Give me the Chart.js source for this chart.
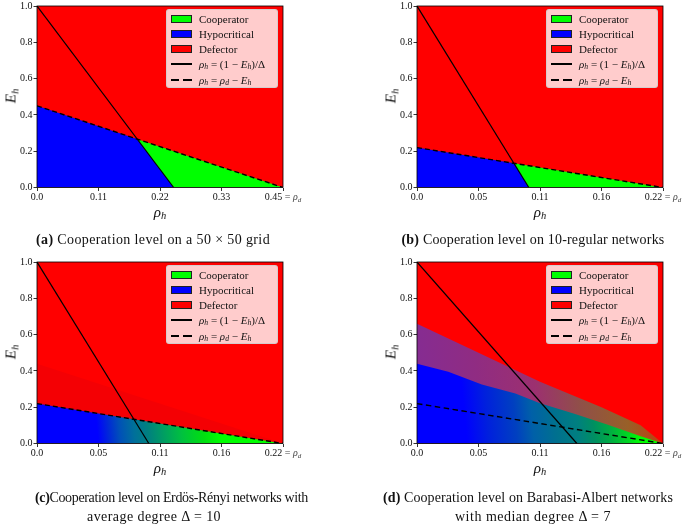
<!DOCTYPE html>
<html>
<head>
<meta charset="utf-8">
<script src="https://cdn.jsdelivr.net/npm/chart.js@4.4.1/dist/chart.umd.min.js"></script>
<style>
  body { margin: 0; width: 685px; height: 526px; position: relative; background: #fff; overflow: hidden;
         font-family: 'Liberation Serif', serif; color: #111; }
  canvas { position: absolute; }
  .t { position: absolute; white-space: nowrap; line-height: 1; transform: translate(-50%, -50%); }
  .cap { font-size: 14px; }
  .xt { font-size: 15px; }
  .yt { font-size: 15px; transform: translate(-50%, -50%) rotate(-90deg); }
  .tk { font-size: 10px; }
  .tk span { color: #444; }
  sub { font-size: 70%; vertical-align: -0.25em; line-height: 0; }
  .leg { position: absolute; width: 112px; height: 79px; box-sizing: border-box; background: rgba(255,255,255,0.8);
         border: 1px solid rgba(204,204,204,0.8); border-radius: 3px; font-size: 11px; }
  .leg .sw { position: absolute; left: 4px; width: 21px; height: 8px; border: 1px solid #222; box-sizing: border-box; }
  .leg .ln { position: absolute; left: 4px; width: 21px; height: 1.6px; background: #000; }
  .leg .ln.d { background: repeating-linear-gradient(90deg, #000 0 8px, transparent 8px 12.5px); height: 2px; }
  .leg .lb { position: absolute; left: 32px; line-height: 1; transform: translateY(-50%); white-space: nowrap; }
</style>
</head>
<body>
<script>
// x = rho_h, y = E_h
const rhoD = [0.45, 0.22, 0.22, 0.22];
const xTickValues = [
  [0, 0.1125, 0.225, 0.3375, 0.45],
  [0, 0.055, 0.11, 0.165, 0.22],
  [0, 0.055, 0.11, 0.165, 0.22],
  [0, 0.055, 0.11, 0.165, 0.22]
];
const xTickLabels = [
  ['0.0', '0.11', '0.22', '0.33', '0.45'],
  ['0.0', '0.05', '0.11', '0.16', '0.22'],
  ['0.0', '0.05', '0.11', '0.16', '0.22'],
  ['0.0', '0.05', '0.11', '0.16', '0.22']
];
const yTickValues = [0, 0.2, 0.4, 0.6, 0.8, 1.0];
const yTickLabels = ['0.0', '0.2', '0.4', '0.6', '0.8', '1.0'];

// (a) 50x50 grid
const gridCoop = [[0.25, 0], [0.183, 0.267], [0.45, 0]];
const gridHypo = [[0, 0], [0, 0.45], [0.183, 0.267], [0.25, 0]];
const gridSolid = [[0, 1], [0.25, 0]];
const gridDashed = [[0, 0.45], [0.45, 0]];

// (b) 10-regular
const regCoop = [[0.1, 0], [0.087, 0.133], [0.22, 0]];
const regHypo = [[0, 0], [0, 0.22], [0.087, 0.133], [0.1, 0]];
const regSolid = [[0, 1], [0.1, 0]];
const regDashed = [[0, 0.22], [0.22, 0]];

// (c) Erdos-Renyi
const erMixed = [[0, 0], [0, 0.22], [0.22, 0]];
const erShade = [[0, 0], [0, 0.44], [0.22, 0]];
const erSolid = [[0, 1], [0.1, 0]];
const erDashed = [[0, 0.22], [0.22, 0]];

// (d) Barabasi-Albert
const baMixed = [[0, 0], [0, 0.44], [0.028, 0.395], [0.058, 0.325], [0.088, 0.275], [0.11, 0.222],
                 [0.14, 0.165], [0.17, 0.104], [0.2, 0.04], [0.22, 0]];
const baShade = [[0, 0], [0, 0.66], [0.055, 0.5], [0.11, 0.34], [0.165, 0.2], [0.2, 0.1], [0.22, 0]];
const baSolid = [[0, 1], [0.143, 0]];
const baDashed = [[0, 0.22], [0.22, 0]];

const colCoop = '#00ff00', colHypo = '#0000ff', colDef = '#ff0000';

// colour ramps (blue -> green) along rho_h
const erStops = [[0, '#0000ff'], [0.055, '#0000ff'], [0.065, '#0028d8'], [0.075, '#0050b8'], [0.088, '#00709a'],
  [0.1, '#008080'], [0.115, '#00a060'], [0.13, '#00c040'], [0.15, '#00e010'], [0.165, '#00ff00'], [0.22, '#00ff00']];
const baStops = [[0, '#0000ff'], [0.045, '#0000ff'], [0.065, '#0020dd'], [0.09, '#0040c0'], [0.105, '#0060a8'],
  [0.125, '#00708f'], [0.145, '#007f80'], [0.16, '#009060'], [0.175, '#00b040'], [0.19, '#00d820'], [0.2, '#00ff00'], [0.22, '#00ff00']];
const baShadeStops = [[0, '#842c94'], [0.06, '#902c82'], [0.11, '#9c3070'], [0.15, '#905048'], [0.19, '#986028'], [0.22, '#c04010']];

const W = 300, H = 230, PL = 37, PW = 246, PT = 5, PB = 187.5;
const panelPos = [[0, 0], [380, 0], [0, 256], [380, 256]];

function pts(a) { return a.map(([x, y]) => ({x, y})); }

function region(data, color, order) {
  return { data: pts(data), fill: 'shape', backgroundColor: color, borderColor: 'rgba(0,0,0,0)',
           borderWidth: 0, pointRadius: 0, order };
}
function edge(data, dash) {
  return { data: pts(data), fill: false, borderColor: '#000', borderWidth: dash.length ? 1.4 : 1.2,
           borderDash: dash, pointRadius: 0, order: 0 };
}
function sweep(stops, tilt) {
  return (c) => {
    const chart = c.chart, a = chart.chartArea, xs = chart.scales.x;
    if (!a || !xs) return stops[0][1];
    const w = a.right - a.left, k = 1 + tilt * tilt;
    const g = chart.ctx.createLinearGradient(a.left, a.bottom, a.right, a.bottom - w * tilt);
    for (const [v, col] of stops) g.addColorStop(Math.min(1, v / xs.max / k), col);
    return g;
  };
}

const frame = {
  id: 'frame',
  afterDatasetsDraw(chart) {
    const {ctx, chartArea: a} = chart;
    ctx.save();
    ctx.strokeStyle = '#000';
    ctx.lineWidth = 0.8;
    ctx.strokeRect(a.left, a.top, a.right - a.left, a.bottom - a.top);
    ctx.restore();
  }
};

const panelSets = [
  [edge(gridSolid, []), edge(gridDashed, [5, 3]), region(gridCoop, colCoop, 1), region(gridHypo, colHypo, 1)],
  [edge(regSolid, []), edge(regDashed, [5, 3]), region(regCoop, colCoop, 1), region(regHypo, colHypo, 1)],
  [edge(erSolid, []), edge(erDashed, [5, 3]), region(erMixed, sweep(erStops, 0.1), 1),
   region(erShade, 'rgba(120,0,50,0.08)', 2)],
  [edge(baSolid, []), edge(baDashed, [5.5, 3.5]), region(baMixed, sweep(baStops, 0.1), 1),
   region(baShade, sweep(baShadeStops, 0.1), 2)]
];

const tickFont = {family: 'Liberation Serif', size: 10, lineHeight: 1};

panelSets.forEach((sets, i) => {
  const [left, top] = panelPos[i];
  const cv = document.createElement('canvas');
  cv.width = W; cv.height = H;
  cv.style.left = left + 'px'; cv.style.top = top + 'px';
  document.body.appendChild(cv);

  const defector = [[0, 0], [0, 1], [rhoD[i], 1], [rhoD[i], 0]];
  sets.push(region(defector, colDef, 3));

  new Chart(cv, {
    type: 'line',
    data: { datasets: sets },
    options: {
      responsive: false,
      animation: false,
      events: [],
      layout: { padding: { left: 0, right: W - PL - PW, top: PT, bottom: 0 } },
      plugins: { legend: { display: false }, tooltip: { enabled: false } },
      scales: {
        x: {
          type: 'linear', min: 0, max: rhoD[i],
          afterBuildTicks: s => { s.ticks = xTickValues[i].map(v => ({value: v})); },
          afterFit: s => { s.height = H - PB; },
          ticks: { autoSkip: false, maxRotation: 0, padding: 1, color: '#111', font: tickFont,
                   callback: (v, k) => k === xTickLabels[i].length - 1 ? '' : xTickLabels[i][k] },
          grid: { drawOnChartArea: false, drawTicks: true, tickLength: 3.5, color: '#000', lineWidth: 0.8 },
          border: { display: false }
        },
        y: {
          type: 'linear', min: 0, max: 1,
          afterBuildTicks: s => { s.ticks = yTickValues.map(v => ({value: v})); },
          afterFit: s => { s.width = PL; },
          ticks: { autoSkip: false, padding: 1, color: '#111', font: tickFont,
                   callback: (v, k) => yTickLabels[k] },
          grid: { drawOnChartArea: false, drawTicks: true, tickLength: 3.5, color: '#000', lineWidth: 0.8 },
          border: { display: false }
        }
      }
    },
    plugins: [frame]
  });

  // overlays: axis titles, last x tick, legend
  const put = (cls, html, x, y) => {
    const d = document.createElement('div');
    d.className = 't ' + cls;
    d.innerHTML = html;
    d.style.left = x + 'px'; d.style.top = y + 'px';
    document.body.appendChild(d);
  };
  put('xt', '<i>ρ</i><sub><i>h</i></sub>', left + PL + PW / 2, top + 212);
  put('yt', '<i>E</i><sub><i>h</i></sub>', left + 11, top + PT + 91);
  const last = xTickLabels[i][xTickLabels[i].length - 1];
  put('tk', last + '<span> = <i>ρ</i><sub><i>d</i></sub></span>', left + PL + PW, top + PB + 9.5);

  const leg = document.createElement('div');
  leg.className = 'leg';
  leg.style.left = (left + PL + PW - 5 - 112) + 'px';
  leg.style.top = (top + PT + 4) + 'px';
  const rows = [
    ['sw', colCoop, 'Cooperator'],
    ['sw', colHypo, 'Hypocritical'],
    ['sw', colDef, 'Defector'],
    ['ln', '', '<i>ρ</i><sub><i>h</i></sub> = (1 − <i>E</i><sub><i>h</i></sub>)/Δ'],
    ['ln d', '', '<i>ρ</i><sub><i>h</i></sub> = <i>ρ</i><sub><i>d</i></sub> − <i>E</i><sub><i>h</i></sub>']
  ];
  const rowY = [8.5, 23.5, 38.5, 54, 69.5];
  rows.forEach(([kind, col, text], r) => {
    const m = document.createElement('div');
    m.className = kind;
    if (col) m.style.background = col;
    m.style.top = (rowY[r] - (kind === 'sw' ? 4 : 1)) + 'px';
    leg.appendChild(m);
    const l = document.createElement('div');
    l.className = 'lb';
    l.style.top = rowY[r] + 'px';
    l.innerHTML = text;
    leg.appendChild(l);
  });
  document.body.appendChild(leg);
});

// caption lines: text, centre x, centre y, width in the figure
const captions = [
  ['<b>(a)</b> Cooperation level on a 50 × 50 grid', 153, 240, 234],
  ['<b>(b)</b> Cooperation level on 10-regular networks', 533, 240, 263],
  ['<b>(c)</b>Cooperation level on Erdös-Rényi networks with', 171.5, 498, 273],
  ['average degree Δ = 10', 154, 517, 134],
  ['<b>(d)</b> Cooperation level on Barabasi-Albert networks', 528, 498, 290],
  ['with median degree Δ = 7', 533, 517, 156]
];
captions.forEach(([html, x, y, w]) => {
  const d = document.createElement('div');
  d.className = 't cap';
  d.innerHTML = html;
  d.style.left = x + 'px'; d.style.top = y + 'px';
  document.body.appendChild(d);
  const n = d.textContent.length;
  d.style.letterSpacing = ((w - d.getBoundingClientRect().width) / n) + 'px';
});
</script>
</body>
</html>
